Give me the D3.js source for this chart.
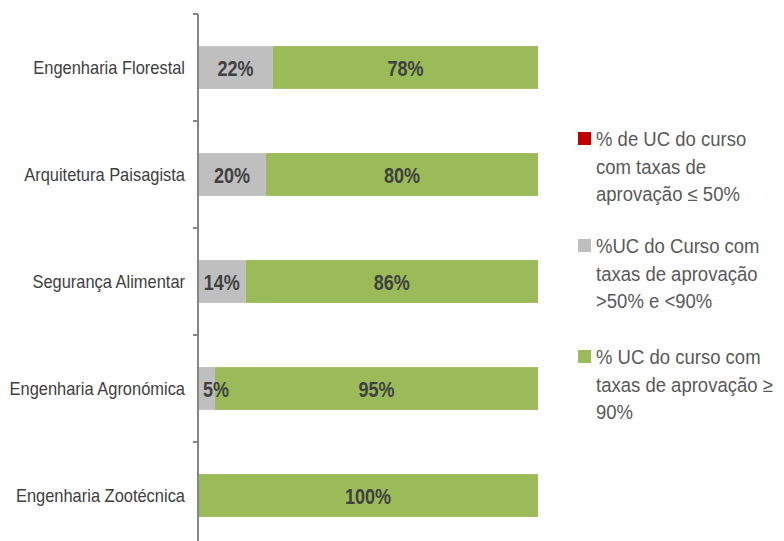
<!DOCTYPE html>
<html>
<head>
<meta charset="utf-8">
<script src="https://cdn.jsdelivr.net/npm/d3@7"></script>
<style>
  body { margin: 0; background: #fff; }
  svg { display: block; }
</style>
</head>
<body>
<div id="chart"></div>
<script>
var svgWidth = 784;
var svgHeight = 541;

// data
var cursos = ["Engenharia Florestal", "Arquitetura Paisagista", "Segurança Alimentar", "Engenharia Agronómica", "Engenharia Zootécnica"];
var ateCinquenta = [0, 0, 0, 0, 0];
var entreCinquentaNoventa = [22, 20, 14, 5, 0];
var acimaNoventa = [78, 80, 86, 95, 100];

var legendLabels = [
  ["% de UC do curso", "com taxas de", "aprovação ≤ 50%"],
  ["%UC do Curso com", "taxas de aprovação", ">50% e <90%"],
  ["% UC do curso com", "taxas de aprovação ≥", "90%"]
];
var colors = ["#c00000", "#bfbfbf", "#9bbb59"];

var series = [ateCinquenta, entreCinquentaNoventa, acimaNoventa];

var fontFam = "'Liberation Sans', Arial, sans-serif";

var svg = d3.select("#chart")
  .append("svg")
  .attr("width", svgWidth)
  .attr("height", svgHeight);

var xScale = d3.scaleLinear()
  .domain([0, 100])
  .range([198, 538]);

var yScale = d3.scaleBand()
  .domain(cursos)
  .range([14, 549])
  .paddingInner(0.6)
  .paddingOuter(0.3);

// stack rows
var rows = cursos.map(function(c, i) {
  var x0 = 0;
  return series.map(function(s, k) {
    var seg = { curso: c, k: k, v: s[i], x0: x0, x1: x0 + s[i] };
    x0 += s[i];
    return seg;
  });
});

var barGroup = svg.append("g");
var labelScale = 0.8;

rows.forEach(function(row) {
  var segs = row.filter(function(d) { return d.v > 0; });
  barGroup.selectAll(null)
    .data(segs)
    .enter()
    .append("rect")
    .attr("x", function(d) { return xScale(d.x0); })
    .attr("y", function(d) { return yScale(d.curso); })
    .attr("width", function(d) { return xScale(d.x1) - xScale(d.x0); })
    .attr("height", yScale.bandwidth())
    .attr("fill", function(d) { return colors[d.k]; });

  barGroup.selectAll(null)
    .data(segs)
    .enter()
    .append("text")
    .attr("dy", "0.36em")
    .attr("text-anchor", "middle")
    .style("font-family", fontFam)
    .style("font-weight", "bold")
    .style("font-size", "22.5px")
    .style("fill", "#404040")
    .text(function(d) { return d.v + "%"; })
    .attr("transform", function(d) {
      var w = this.getComputedTextLength() * labelScale;
      var cx = (xScale(d.x0) + xScale(d.x1)) / 2;
      // keep small labels inside the plot
      cx = Math.max(cx, xScale(0) + w / 2 + 5);
      var cy = yScale(d.curso) + yScale.bandwidth() / 2;
      return "translate(" + cx + "," + cy + ") scale(" + labelScale + ",1)";
    });
});

// category axis
var tickPos = cursos.map(function(c) { return yScale(c) - yScale.step() * 0.3; });
tickPos.push(yScale(cursos[cursos.length - 1]) + yScale.bandwidth() + yScale.step() * 0.3);

var axisGroup = svg.append("g");
axisGroup.append("line")
  .attr("x1", xScale(0)).attr("x2", xScale(0))
  .attr("y1", 14).attr("y2", svgHeight)
  .attr("stroke", "#868686")
  .attr("stroke-width", 2);

axisGroup.selectAll(null)
  .data(tickPos)
  .enter()
  .append("line")
  .attr("x1", xScale(0) - 5).attr("x2", xScale(0))
  .attr("y1", function(d) { return d; })
  .attr("y2", function(d) { return d; })
  .attr("stroke", "#868686")
  .attr("stroke-width", 2);

axisGroup.selectAll(null)
  .data(cursos)
  .enter()
  .append("text")
  .attr("transform", function(d) {
    return "translate(185," + (yScale(d) + yScale.bandwidth() / 2) + ") scale(0.94,1)";
  })
  .attr("dy", "0.36em")
  .attr("text-anchor", "end")
  .style("font-family", fontFam)
  .style("font-size", "17.5px")
  .style("fill", "#404040")
  .text(function(d) { return d; });

// legend
var legendTop = [139, 246, 357];
var legend = svg.append("g");

legendLabels.forEach(function(lines, k) {
  legend.append("rect")
    .attr("x", 578)
    .attr("y", legendTop[k] - 7)
    .attr("width", 13)
    .attr("height", 13)
    .attr("fill", colors[k]);

  legend.selectAll(null)
    .data(lines)
    .enter()
    .append("text")
    .attr("transform", function(d, j) {
      return "translate(596," + (legendTop[k] + j * 27.5) + ") scale(0.95,1)";
    })
    .attr("dy", "0.36em")
    .style("font-family", fontFam)
    .style("font-size", "19.5px")
    .style("fill", "#595959")
    .text(function(d) { return d; });
});
</script>
</body>
</html>
